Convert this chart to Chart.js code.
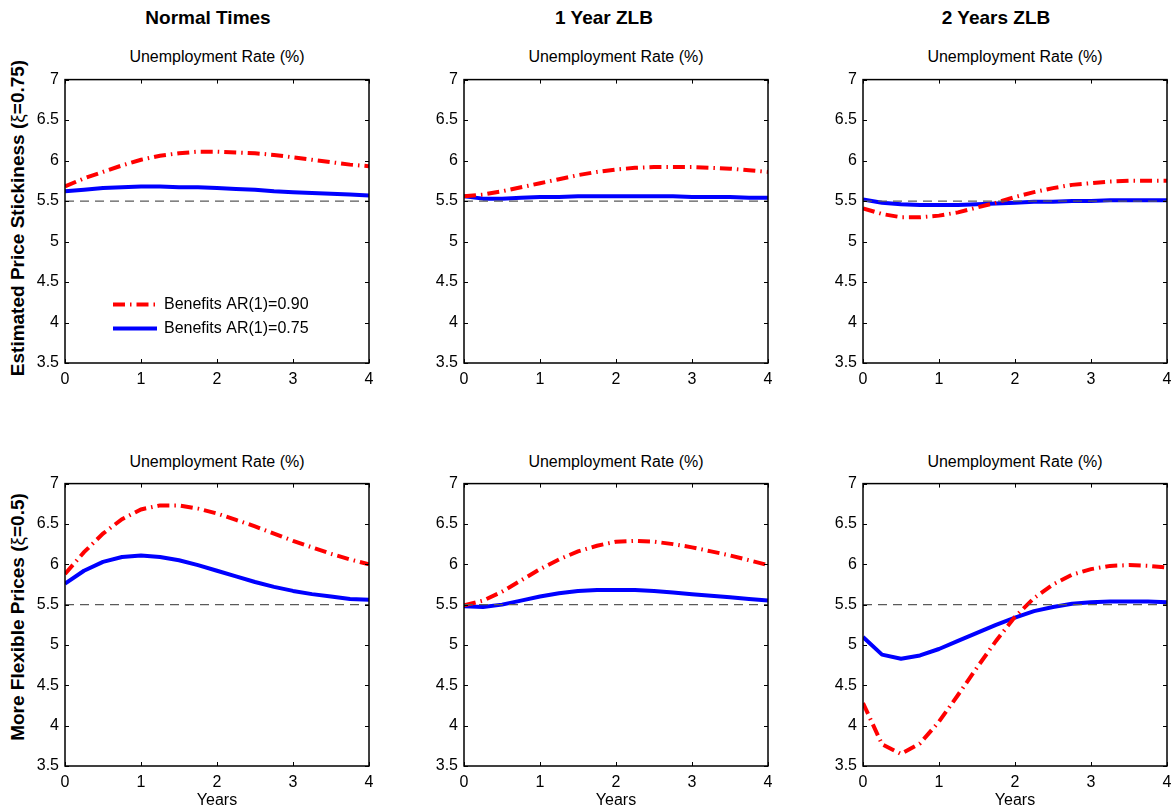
<!DOCTYPE html>
<html>
<head>
<meta charset="utf-8">
<script src="https://cdn.jsdelivr.net/npm/chart.js@4.4.1/dist/chart.umd.min.js"></script>
<style>
    body { margin: 0; background: #fff; width: 1176px; height: 810px; position: relative; overflow: hidden;
           font-family: "Liberation Sans", Arial, Helvetica, sans-serif; color: #000; }
    canvas { position: absolute; }
    .colTitle { position: absolute; font-weight: bold; font-size: 19px; transform: translate(-50%, -50%); white-space: nowrap; }
    .sub { position: absolute; font-size: 16px; transform: translate(-50%, -50%); white-space: nowrap; }
    .rowLabel { position: absolute; font-weight: bold; font-size: 19px; white-space: nowrap;
                transform: translate(-50%, -50%) rotate(-90deg); }
    .rowLabel span { font-weight: normal; }
</style>
</head>
<body>
<div class="colTitle" style="left:208px; top:18px;">Normal Times</div>
<div class="colTitle" style="left:604px; top:18px;">1 Year ZLB</div>
<div class="colTitle" style="left:996px; top:18px;">2 Years ZLB</div>

<div class="rowLabel" style="left:18px; top:218px;">Estimated Price Stickiness (<span>ξ</span>=0.75)</div>
<div class="rowLabel" style="left:18px; top:617px;">More Flexible Prices (<span>ξ</span>=0.5)</div>

<script>
// quarters after the shock, in years
const quarters = [0, 0.25, 0.5, 0.75, 1, 1.25, 1.5, 1.75, 2, 2.25, 2.5, 2.75, 3, 3.25, 3.5, 3.75, 4];
const seriesLabels = ['Benefits AR(1)=0.90', 'Benefits AR(1)=0.75'];
const steadyState = 5.5;
const xTickValues = [0, 1, 2, 3, 4];
const yTickValues = [3.5, 4, 4.5, 5, 5.5, 6, 6.5, 7];
const subTitle = 'Unemployment Rate (%)';
const xTitle = 'Years';

// row 1: estimated price stickiness (xi = 0.75)
const normalSticky90 = [5.68, 5.78, 5.86, 5.94, 6.01, 6.06, 6.09, 6.11, 6.11, 6.10, 6.09, 6.07, 6.04, 6.01, 5.98, 5.95, 5.93];
const normalSticky75 = [5.62, 5.64, 5.66, 5.67, 5.68, 5.68, 5.67, 5.67, 5.66, 5.65, 5.64, 5.62, 5.61, 5.60, 5.59, 5.58, 5.57];
const zlb1Sticky90 = [5.56, 5.58, 5.62, 5.67, 5.72, 5.77, 5.82, 5.86, 5.89, 5.91, 5.92, 5.92, 5.92, 5.91, 5.90, 5.88, 5.86];
const zlb1Sticky75 = [5.56, 5.53, 5.53, 5.54, 5.55, 5.55, 5.56, 5.56, 5.56, 5.56, 5.56, 5.56, 5.55, 5.55, 5.55, 5.54, 5.54];
const zlb2Sticky90 = [5.41, 5.34, 5.30, 5.30, 5.32, 5.36, 5.42, 5.48, 5.55, 5.61, 5.66, 5.70, 5.72, 5.74, 5.75, 5.75, 5.75];
const zlb2Sticky75 = [5.52, 5.48, 5.46, 5.45, 5.45, 5.45, 5.46, 5.47, 5.48, 5.49, 5.49, 5.50, 5.50, 5.51, 5.51, 5.51, 5.51];

// row 2: more flexible prices (xi = 0.5)
const normalFlex90 = [5.88, 6.15, 6.38, 6.56, 6.68, 6.73, 6.73, 6.69, 6.63, 6.55, 6.47, 6.38, 6.29, 6.21, 6.13, 6.06, 6.00];
const normalFlex75 = [5.76, 5.92, 6.03, 6.09, 6.11, 6.09, 6.05, 5.99, 5.92, 5.85, 5.78, 5.72, 5.67, 5.63, 5.60, 5.57, 5.56];
const zlb1Flex90 = [5.49, 5.55, 5.66, 5.80, 5.94, 6.06, 6.16, 6.23, 6.28, 6.29, 6.28, 6.25, 6.21, 6.16, 6.11, 6.05, 5.99];
const zlb1Flex75 = [5.48, 5.47, 5.50, 5.55, 5.60, 5.64, 5.67, 5.68, 5.68, 5.68, 5.67, 5.65, 5.63, 5.61, 5.59, 5.57, 5.55];
const zlb2Flex90 = [4.28, 3.77, 3.65, 3.78, 4.05, 4.38, 4.72, 5.05, 5.35, 5.58, 5.75, 5.87, 5.94, 5.98, 5.99, 5.98, 5.96];
const zlb2Flex75 = [5.10, 4.88, 4.83, 4.87, 4.95, 5.05, 5.15, 5.25, 5.34, 5.42, 5.47, 5.51, 5.53, 5.54, 5.54, 5.54, 5.53];

const panels = [
    { row: 0, col: 0, high: normalSticky90, low: normalSticky75, legend: true },
    { row: 0, col: 1, high: zlb1Sticky90, low: zlb1Sticky75 },
    { row: 0, col: 2, high: zlb2Sticky90, low: zlb2Sticky75 },
    { row: 1, col: 0, high: normalFlex90, low: normalFlex75 },
    { row: 1, col: 1, high: zlb1Flex90, low: zlb1Flex75 },
    { row: 1, col: 2, high: zlb2Flex90, low: zlb2Flex75 }
];

const FONT = '"Liberation Sans", Arial, Helvetica, sans-serif';
const RED_DASH = [12, 5, 1.5, 5];

// layout of the axes boxes on the page
const plotLeft = [65, 464, 863];
const plotTop = [76, 480];
const plotW = 304;
const plotH = [287, 286];
const padLeft = 55, padTop = 12, padRight = 14;
const bottomH = [26, 44];
const subTitleY = [57, 462];

const toPoints = ys => ys.map((y, i) => ({ x: quarters[i], y: y }));

// box around the axes with inward ticks, MATLAB style
const framePlugin = {
    id: 'frame',
    afterDatasetsDraw(chart) {
        const { ctx, chartArea: a, scales: { x, y } } = chart;
        ctx.save();
        ctx.strokeStyle = '#000';
        ctx.lineWidth = 1.5;
        ctx.strokeRect(a.left, a.top, a.right - a.left, a.bottom - a.top);
        ctx.lineWidth = 1;
        ctx.beginPath();
        xTickValues.forEach(v => {
            const px = Math.round(x.getPixelForValue(v)) + 0.5;
            ctx.moveTo(px, a.bottom); ctx.lineTo(px, a.bottom - 4);
            ctx.moveTo(px, a.top); ctx.lineTo(px, a.top + 4);
        });
        yTickValues.forEach(v => {
            const py = Math.round(y.getPixelForValue(v)) + 0.5;
            ctx.moveTo(a.left, py); ctx.lineTo(a.left + 4, py);
            ctx.moveTo(a.right, py); ctx.lineTo(a.right - 4, py);
        });
        ctx.stroke();
        ctx.restore();
    }
};

// legend inside the first axes
const legendPlugin = {
    id: 'insideLegend',
    afterDraw(chart, args, opts) {
        if (!opts.show) return;
        const { ctx, chartArea: a } = chart;
        const rows = [
            { label: seriesLabels[0], color: '#ff0000', dash: RED_DASH, dy: 225 },
            { label: seriesLabels[1], color: '#0000ff', dash: [], dy: 249 }
        ];
        ctx.save();
        rows.forEach(r => {
            const yy = a.top + r.dy;
            ctx.beginPath();
            ctx.setLineDash(r.dash);
            ctx.lineCap = 'butt';
            ctx.strokeStyle = r.color;
            ctx.lineWidth = 4;
            ctx.moveTo(a.left + 48, yy);
            ctx.lineTo(a.left + 92, yy);
            ctx.stroke();
            ctx.setLineDash([]);
            ctx.fillStyle = '#000';
            ctx.font = '16px ' + FONT;
            ctx.textBaseline = 'middle';
            ctx.fillText(r.label, a.left + 99, yy);
        });
        ctx.restore();
    }
};

panels.forEach(p => {
    const left = plotLeft[p.col] - padLeft;
    const top = plotTop[p.row] - padTop;
    const width = padLeft + plotW + padRight;
    const height = padTop + plotH[p.row] + bottomH[p.row];

    const sub = document.createElement('div');
    sub.className = 'sub';
    sub.style.left = (plotLeft[p.col] + plotW / 2) + 'px';
    sub.style.top = subTitleY[p.row] + 'px';
    sub.textContent = subTitle;
    document.body.appendChild(sub);

    const canvas = document.createElement('canvas');
    canvas.width = width;
    canvas.height = height;
    canvas.style.left = left + 'px';
    canvas.style.top = top + 'px';
    canvas.style.width = width + 'px';
    canvas.style.height = height + 'px';
    document.body.appendChild(canvas);

    new Chart(canvas, {
        type: 'line',
        data: {
            datasets: [
                {
                    label: 'steady state',
                    data: [{ x: quarters[0], y: steadyState }, { x: quarters[quarters.length - 1], y: steadyState }],
                    borderColor: '#5a5a5a',
                    borderWidth: 1.2,
                    borderDash: [9, 6],
                    pointRadius: 0,
                    order: 0
                },
                {
                    label: seriesLabels[0],
                    data: toPoints(p.high),
                    borderColor: '#ff0000',
                    borderWidth: 4,
                    borderDash: RED_DASH,
                    borderCapStyle: 'butt',
                    pointRadius: 0,
                    tension: 0,
                    order: 1
                },
                {
                    label: seriesLabels[1],
                    data: toPoints(p.low),
                    borderColor: '#0000ff',
                    borderWidth: 4,
                    borderJoinStyle: 'round',
                    pointRadius: 0,
                    tension: 0,
                    order: 2
                }
            ]
        },
        options: {
            responsive: false,
            animation: false,
            devicePixelRatio: 1,
            layout: { padding: { left: 0, top: padTop, right: padRight, bottom: 0 } },
            plugins: {
                legend: { display: false },
                tooltip: { enabled: false },
                insideLegend: { show: !!p.legend }
            },
            scales: {
                x: {
                    type: 'linear',
                    min: 0,
                    max: 4,
                    grid: { display: false, drawTicks: false },
                    border: { display: false },
                    afterBuildTicks: s => { s.ticks = xTickValues.map(v => ({ value: v })); },
                    ticks: { padding: 7, color: '#000', font: { size: 16, family: FONT }, maxRotation: 0, autoSkip: false,
                             callback: v => String(v) },
                    title: { display: p.row === 1, text: xTitle, color: '#000', font: { size: 16, family: FONT }, padding: 0 },
                    afterFit: s => { s.height = bottomH[p.row]; }
                },
                y: {
                    min: 3.5,
                    max: 7,
                    grid: { display: false, drawTicks: false },
                    border: { display: false },
                    afterBuildTicks: s => { s.ticks = yTickValues.map(v => ({ value: v })); },
                    ticks: { padding: 6, color: '#000', font: { size: 16, family: FONT }, autoSkip: false,
                             callback: v => String(v) },
                    afterFit: s => { s.width = padLeft; }
                }
            }
        },
        plugins: [framePlugin, legendPlugin]
    });
});
</script>
</body>
</html>
